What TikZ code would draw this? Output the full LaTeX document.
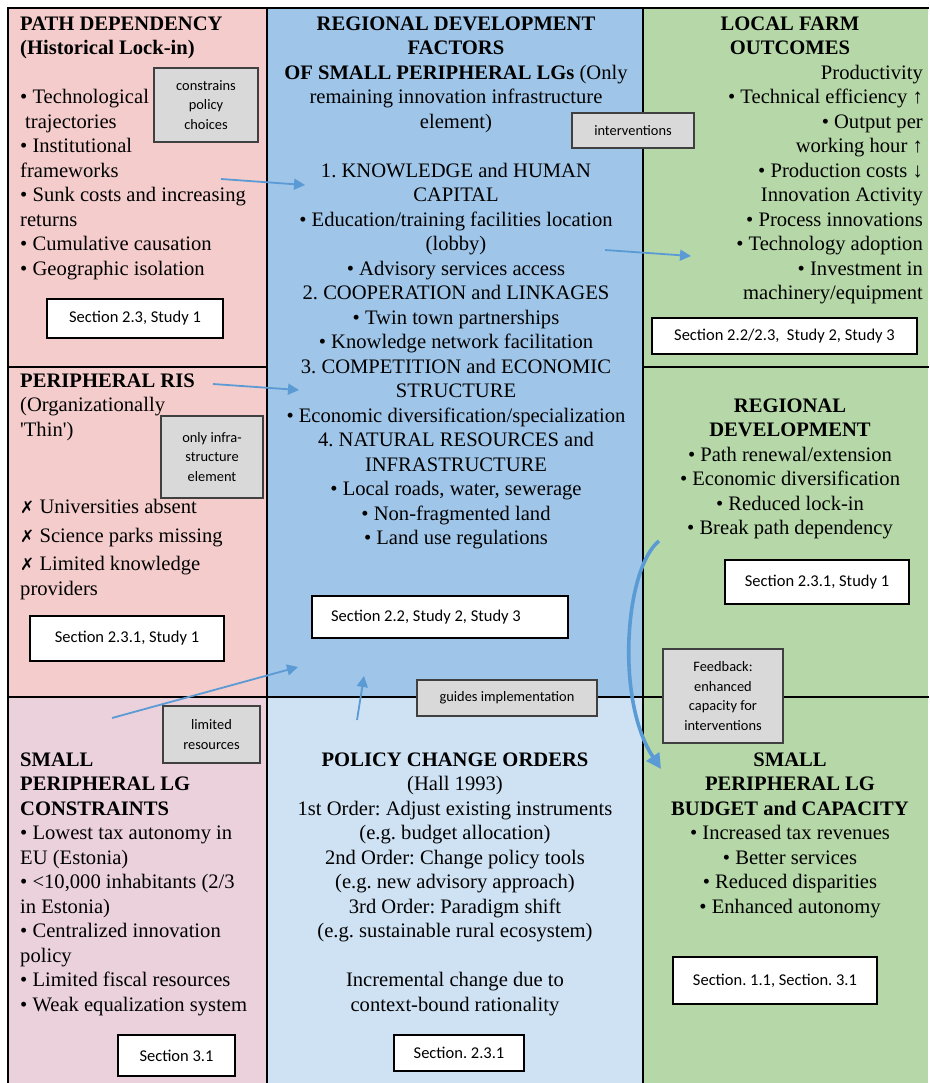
\documentclass[tikz,border=0pt]{standalone}
\usepackage{fontspec}
\setmainfont{Liberation Serif}
\newfontfamily\tnrfont{Liberation Serif}
\newfontfamily\calibfont{Carlito}
\newfontfamily\dejafont{DejaVu Sans}
\usetikzlibrary{arrows.meta}
\definecolor{pinkA}{HTML}{F4CCCC}
\definecolor{blueA}{HTML}{9FC5E8}
\definecolor{greenA}{HTML}{B6D7A8}
\definecolor{lavA}{HTML}{EAD1DC}
\definecolor{blueB}{HTML}{CFE2F3}
\definecolor{grayfill}{HTML}{D9D9D9}
\definecolor{grayline}{HTML}{404040}
\definecolor{arrowblue}{HTML}{5B9BD5}
\newcommand{\fl}{\rule{0pt}{20pt}}
\newcommand{\xm}{{\dejafont\fontsize{17}{24}\selectfont ✗}}
\frenchspacing
\tikzset{
  txt/.style={inner sep=0pt, font=\tnrfont\fontsize{20.6}{24.5}\selectfont\frenchspacing},
  graybox/.style={draw=grayline, fill=grayfill, line width=1.2pt, inner sep=0pt, align=center,
    font=\calibfont\fontsize{14.4}{19.8}\selectfont\frenchspacing},
  secbox/.style={draw=black, fill=white, line width=1.2pt, inner sep=0pt, align=center,
    font=\calibfont\fontsize{16.5}{20}\selectfont\frenchspacing},
  flow/.style={draw=arrowblue, line width=1.8pt, -{Triangle[length=11pt,width=11pt]}},
  bigflow/.style={draw=arrowblue, line width=3.6pt, -{Triangle[length=15pt,width=15pt]}},
}
\begin{document}
\begin{tikzpicture}[x=1pt,y=-1pt]
\useasboundingbox (0,0) rectangle (929,1083);
\fill[white] (0,0) rectangle (929,1083);
% cell fills
\fill[pinkA] (8,8) rectangle (267,697);
\fill[blueA] (267,8) rectangle (643,697);
\fill[greenA] (643,8) rectangle (928,1083);
\fill[lavA] (8,697) rectangle (267,1083);
\fill[blueB] (267,697) rectangle (643,1083);
% borders
\draw[line width=2.8pt] (8,1083) -- (8,8) -- (929,8);
\draw[line width=2pt] (267,8) -- (267,1083);
\draw[line width=2pt] (643,8) -- (643,1083);
\draw[line width=2pt] (8,367) -- (267,367);
\draw[line width=2pt] (643,367) -- (929,367);
\draw[line width=2pt] (8,697) -- (929,697);

% top-left: path dependency
\node[txt, anchor=north west, align=left] (pathdep) at (20,10) {\fl\textbf{PATH DEPENDENCY}\\
\textbf{(Historical Lock-in)}\\[24.5pt]
• Technological\\
\hspace*{5pt}trajectories\\
• Institutional\\
frameworks\\
• Sunk costs and increasing\\
returns\\
• Cumulative causation\\
• Geographic isolation};

% top-middle: regional development factors
\node[txt, anchor=north, align=center] (rdf) at (456,10) {\fl\textbf{REGIONAL DEVELOPMENT}\\
\textbf{FACTORS}\\
\textbf{OF SMALL PERIPHERAL LGs} (Only\\
remaining innovation infrastructure\\
element)\\[24.5pt]
1. KNOWLEDGE and HUMAN\\
CAPITAL\\
• Education/training facilities location\\
(lobby)\\
• Advisory services access\\
2. COOPERATION and LINKAGES\\
• Twin town partnerships\\
• Knowledge network facilitation\\
3. COMPETITION and ECONOMIC\\
STRUCTURE\\
• Economic diversification/specialization\\
4. NATURAL RESOURCES and\\
INFRASTRUCTURE\\
• Local roads, water, sewerage\\
• Non-fragmented land\\
• Land use regulations};

% top-right: local farm outcomes
\node[txt, anchor=north, align=center] (lfotitle) at (790,10) {\fl\textbf{LOCAL FARM}\\
\textbf{OUTCOMES}};
\node[txt, anchor=north east, align=right] (lfolist) at (923,59) {\fl Productivity\\
• Technical efficiency ↑\\
• Output per\\
working hour ↑\\
• Production costs ↓\\
Innovation Activity\\
• Process innovations\\
• Technology adoption\\
• Investment in\\
machinery/equipment};

% mid-left: peripheral RIS
\node[txt, anchor=north west, align=left] (ristitle) at (20,367) {\fl\textbf{PERIPHERAL RIS}\\
(Organizationally\\
\textquotesingle Thin\textquotesingle)};
\node[txt, anchor=base west] (ris1) at (20,513) {\xm\ Universities absent};
\node[txt, anchor=base west] (ris2) at (20,542) {\xm\ Science parks missing};
\node[txt, anchor=base west] (ris3) at (20,570) {\xm\ Limited knowledge};
\node[txt, anchor=base west] (ris4) at (20,595) {providers};

% mid-right: regional development
\node[txt, anchor=north, align=center] (regdev) at (790,392) {\fl\textbf{REGIONAL}\\
\textbf{DEVELOPMENT}\\
• Path renewal/extension\\
• Economic diversification\\
• Reduced lock-in\\
• Break path dependency};

% bottom-left: constraints
\node[txt, anchor=north west, align=left] (constr) at (20,746) {\fl\textbf{SMALL}\\
\textbf{PERIPHERAL LG}\\
\textbf{CONSTRAINTS}\\
• Lowest tax autonomy in\\
EU (Estonia)\\
• <10,000 inhabitants (2/3\\
in Estonia)\\
• Centralized innovation\\
policy\\
• Limited fiscal resources\\
• Weak equalization system};

% bottom-middle: policy change orders
\node[txt, anchor=north, align=center] (pco) at (455,746) {\fl\textbf{POLICY CHANGE ORDERS}\\
(Hall 1993)\\
1st Order: Adjust existing instruments\\
(e.g. budget allocation)\\
2nd Order: Change policy tools\\
(e.g. new advisory approach)\\
3rd Order: Paradigm shift\\
(e.g. sustainable rural ecosystem)\\[24.5pt]
Incremental change due to\\
context-bound rationality};

% bottom-right: budget and capacity
\node[txt, anchor=north, align=center] (budget) at (790,746) {\fl\textbf{SMALL}\\
\textbf{PERIPHERAL LG}\\
\textbf{BUDGET and CAPACITY}\\
• Increased tax revenues\\
• Better services\\
• Reduced disparities\\
• Enhanced autonomy};

% gray label boxes
\node[graybox, minimum width=104pt, minimum height=74pt] (gcons) at (206,105) {constrains\\policy\\choices};
\node[graybox, minimum width=122pt, minimum height=35pt] (ginterv) at (633,130.5) {interventions};
\node[graybox, minimum width=102pt, minimum height=82pt] (ginfra) at (212,457) {only infra-\\structure\\element};
\node[graybox, minimum width=97pt, minimum height=57pt] (glimres) at (211.5,734.5) {limited\\resources};
\node[graybox, minimum width=180pt, minimum height=36pt] (gguides) at (507,698) {guides implementation};
\node[graybox, minimum width=120pt, minimum height=94pt] (gfeed) at (723,696) {Feedback:\\enhanced\\capacity for\\interventions};

% section boxes
\node[secbox, minimum width=176pt, minimum height=39pt] (s1) at (135,318.5) {Section 2.3, Study 1};
\node[secbox, minimum width=265pt, minimum height=36pt] (s2) at (784.5,336) {Section 2.2/2.3,\ \ Study 2, Study 3};
\node[secbox, minimum width=194pt, minimum height=45pt] (s3) at (127,638.5) {Section 2.3.1, Study 1};
\node[secbox, minimum width=256pt, minimum height=42pt] (s4) at (440,617) {Section 2.2, Study 2, Study 3\hspace*{28pt}};
\node[secbox, minimum width=184pt, minimum height=44pt] (s5) at (817,582) {Section 2.3.1, Study 1};
\node[secbox, minimum width=117pt, minimum height=41pt] (s6) at (176.5,1055.5) {Section 3.1};
\node[secbox, minimum width=130pt, minimum height=36pt] (s7) at (459,1053) {Section. 2.3.1};
\node[secbox, minimum width=204pt, minimum height=47pt] (s8) at (775,980.5) {Section. 1.1, Section. 3.1};

% arrow end points
\coordinate (a1s) at (221,179);
\coordinate (a1e) at (305,185);
\coordinate (a2s) at (213,384);
\coordinate (a2e) at (299,390);
\coordinate (a3s) at (112,718);
\coordinate (a3e) at (298,667);
\coordinate (a4s) at (357,720);
\coordinate (a4e) at (364,676);
\coordinate (a5s) at (605,250);
\coordinate (a5e) at (691,256);
\coordinate (cvs) at (659,541);
\coordinate (cve) at (661,769);

\draw[flow] (a1s) -- (a1e);
\draw[flow] (a2s) -- (a2e);
\draw[flow] (a3s) -- (a3e);
\draw[flow] (a4s) -- (a4e);
\draw[flow] (a5s) -- (a5e);
\draw[bigflow] (cvs) .. controls (625,568) and (615,700) .. (cve);
\end{tikzpicture}
\end{document}
